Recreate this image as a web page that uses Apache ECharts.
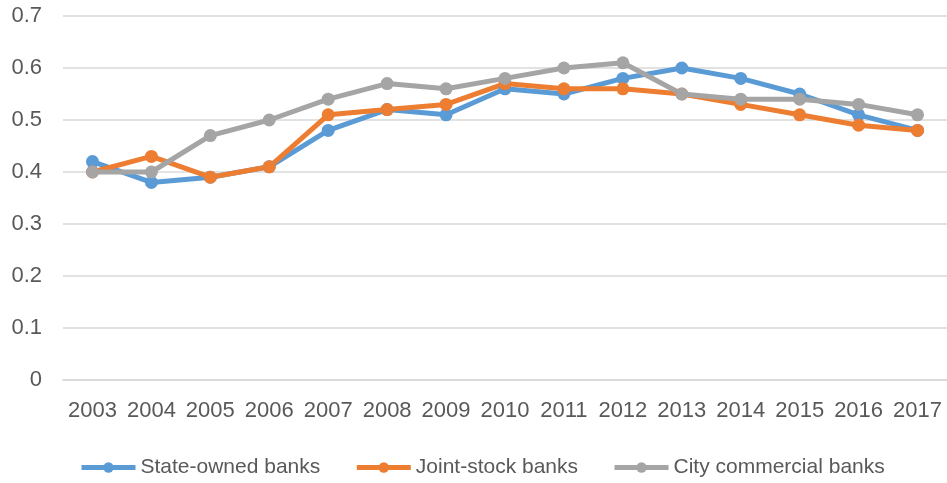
<!DOCTYPE html>
<html>
<head>
<meta charset="utf-8">
<script src="https://cdn.jsdelivr.net/npm/echarts@6/dist/echarts.min.js"></script>
<style>
html,body{margin:0;padding:0;background:#fff;}
#c{width:947px;height:483px;}
</style>
</head>
<body>
<div id="c"></div>
<script>
const years = ['2003','2004','2005','2006','2007','2008','2009','2010','2011','2012','2013','2014','2015','2016','2017'];
const stateOwned = [0.42,0.38,0.39,0.41,0.48,0.52,0.51,0.56,0.55,0.58,0.60,0.58,0.55,0.51,0.48];
const jointStock = [0.40,0.43,0.39,0.41,0.51,0.52,0.53,0.57,0.56,0.56,0.55,0.53,0.51,0.49,0.48];
const cityCommercial = [0.40,0.40,0.47,0.50,0.54,0.57,0.56,0.58,0.60,0.61,0.55,0.54,0.54,0.53,0.51];
const seriesNames = ['State-owned banks','Joint-stock banks','City commercial banks'];
const colors = ['#5B9BD5','#ED7D31','#A5A5A5'];

const chart = echarts.init(document.getElementById('c'), null, {renderer:'canvas'});
const font = '"Liberation Sans", Arial, sans-serif';
function mk(name, data, color){
  return {
    name, type:'line', data,
    symbol:'circle', symbolSize:13,
    lineStyle:{width:5, color},
    itemStyle:{color},
    emphasis:{disabled:true},
    animation:false
  };
}
chart.setOption({
  animation:false,
  color: colors,
  grid:{left:63, right:0, top:16, bottom:103},
  legend:{
    left:74, top:452,
    itemWidth:54, itemHeight:13, itemGap:34,
    lineStyle:{width:5},
    textStyle:{fontFamily:font, fontSize:21, color:'#595959'},
    data: seriesNames
  },
  xAxis:{
    type:'category', data:years, boundaryGap:true,
    axisLine:{show:true, lineStyle:{color:'#d9d9d9', width:1.5}},
    axisTick:{show:false},
    axisLabel:{fontFamily:font, fontSize:22, color:'#595959', margin:20, interval:0}
  },
  yAxis:{
    type:'value', min:0, max:0.7, interval:0.1,
    axisLine:{show:false}, axisTick:{show:false},
    splitLine:{lineStyle:{color:'#d9d9d9', width:1.5}},
    axisLabel:{fontFamily:font, fontSize:22, color:'#595959', margin:21,
      formatter: v => (Math.round(v*10)/10).toString()}
  },
  series:[
    mk(seriesNames[0], stateOwned, colors[0]),
    mk(seriesNames[1], jointStock, colors[1]),
    mk(seriesNames[2], cityCommercial, colors[2])
  ]
});
</script>
</body>
</html>
